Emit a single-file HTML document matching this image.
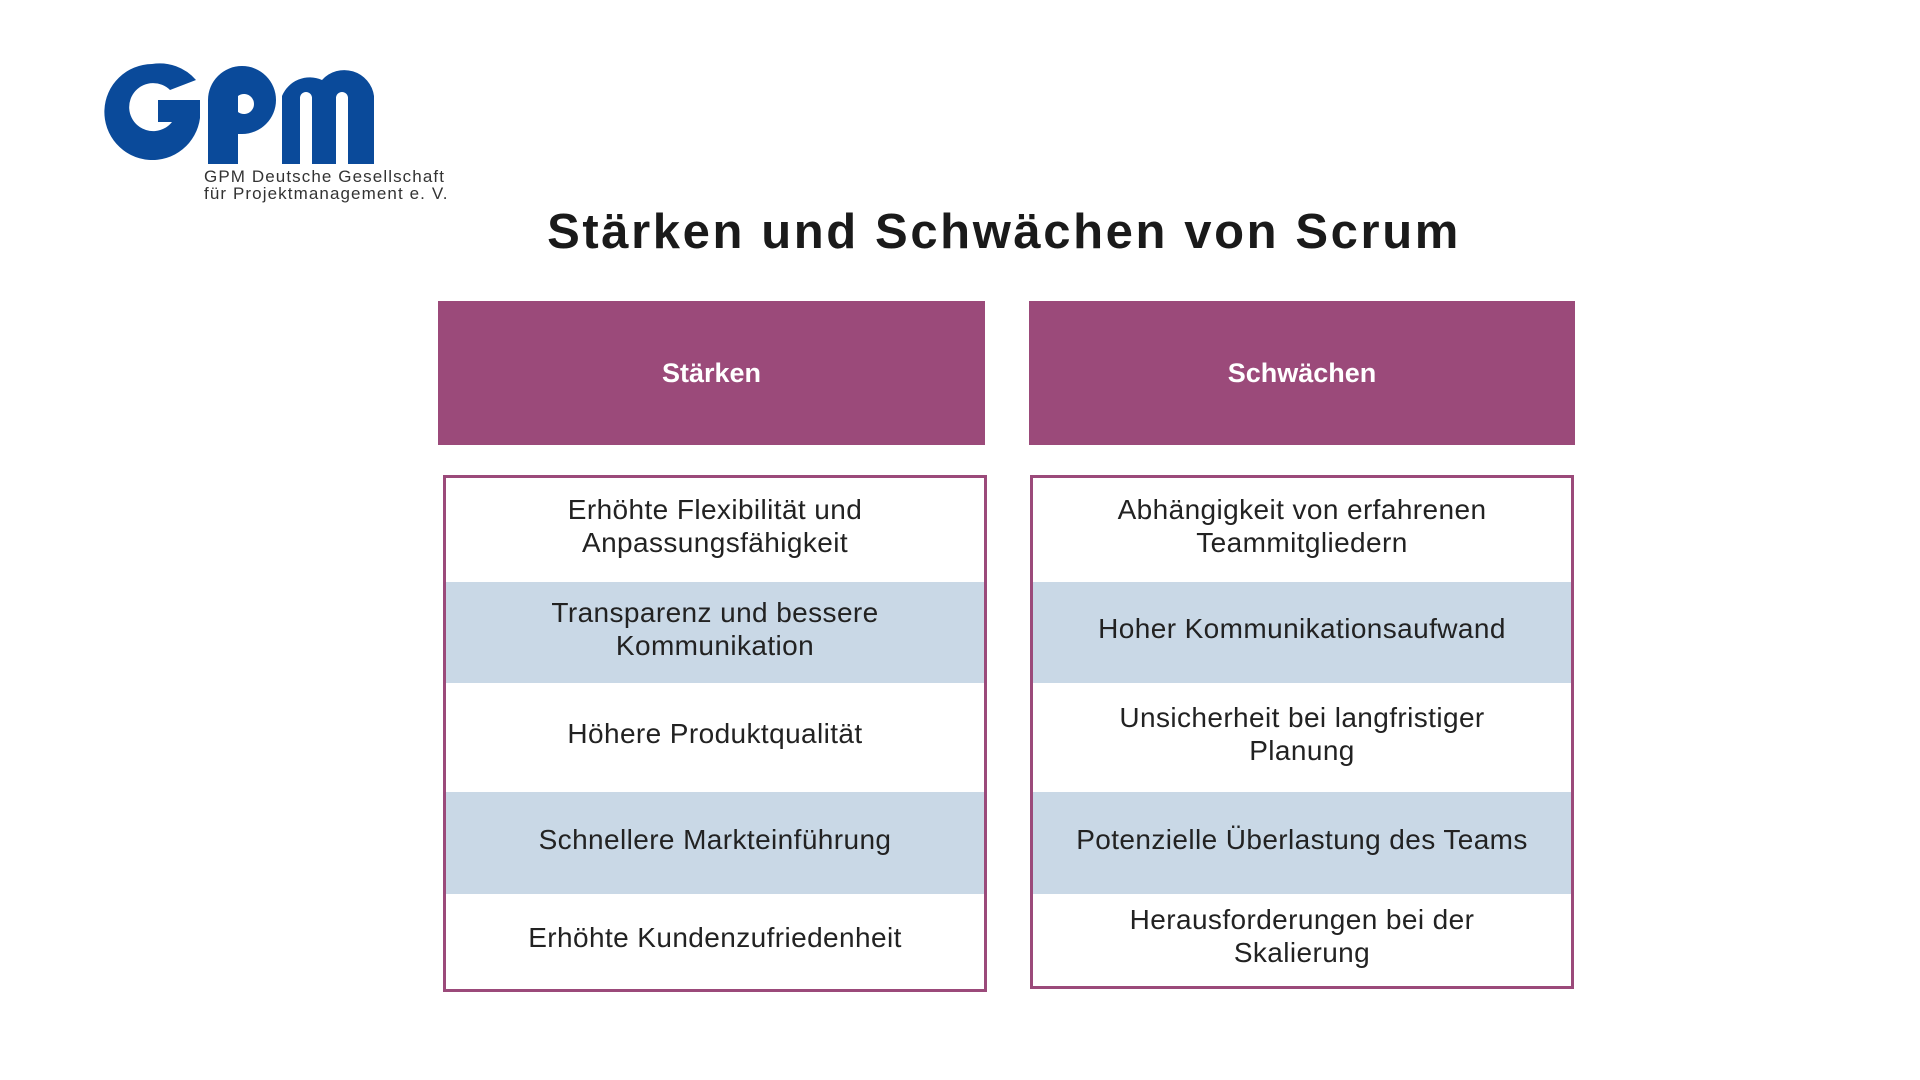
<!DOCTYPE html>
<html><head><meta charset="utf-8"><style>
*{margin:0;padding:0;box-sizing:border-box}
body{width:1920px;height:1080px;background:#fff;position:relative;overflow:hidden;font-family:"Liberation Sans",sans-serif}
.abs{position:absolute}
.hdr{background:#9b4a7a;color:#fff;font-weight:bold;font-size:27px;display:flex;align-items:center;justify-content:center}
.box{border:3px solid #9b4a7a;background:#fff}
.row{position:absolute;left:0;right:0;display:flex;align-items:center;justify-content:center;text-align:center;font-size:28px;line-height:33px;color:#222;padding-bottom:8px;letter-spacing:0.4px}
.b{background:#c9d8e6}
</style></head><body>
<svg class="abs" style="left:100px;top:60px" width="290" height="110" viewBox="0 0 290 110">
<g fill="#0a4a9a">
<path d="M52 4 A48 48 0 1 0 100 58 L100 40 L58 40 L58 62 L72 62 A24 24 0 1 1 70 30 L96 20 A48 48 0 0 0 52 4Z"/>
<path d="M108 104 L108 40 A34 34 0 0 1 176 40 A34 34 0 0 1 142 74 L138 74 L138 104Z M138 52 A10 10 0 1 0 138 36Z" fill-rule="evenodd"/>
<path d="M182 104 L182 36 A30 30 0 0 1 222 20 A30 30 0 0 1 274 36 L274 104 L248 104 L248 38 A6 6 0 0 0 236 38 L236 104 L212 104 L212 38 A6 6 0 0 0 200 38 L200 104Z"/>
</g></svg>
<div class="abs" style="left:204px;top:168px;font-size:17px;line-height:17px;color:#333;letter-spacing:1.1px">GPM Deutsche Gesellschaft<br>für Projektmanagement e. V.</div>
<div class="abs" style="left:0;width:2008px;top:204px;text-align:center;font-size:49px;font-weight:bold;color:#1a1a1a;letter-spacing:2.6px">Stärken und Schwächen von Scrum</div>

<div class="abs hdr" style="left:438px;top:301px;width:547px;height:144px">Stärken</div>
<div class="abs hdr" style="left:1029px;top:301px;width:546px;height:144px">Schwächen</div>

<div class="abs box" style="left:443px;top:475px;width:544px;height:517px">
<div class="row" style="top:0;height:104px">Erhöhte Flexibilität und<br>Anpassungsfähigkeit</div>
<div class="row b" style="top:104px;height:101px">Transparenz und bessere<br>Kommunikation</div>
<div class="row" style="top:205px;height:109px">Höhere Produktqualität</div>
<div class="row b" style="top:314px;height:102px">Schnellere Markteinführung</div>
<div class="row" style="top:416px;height:95px">Erhöhte Kundenzufriedenheit</div>
</div>
<div class="abs box" style="left:1030px;top:475px;width:544px;height:514px">
<div class="row" style="top:0;height:104px">Abhängigkeit von erfahrenen<br>Teammitgliedern</div>
<div class="row b" style="top:104px;height:101px">Hoher Kommunikationsaufwand</div>
<div class="row" style="top:205px;height:109px">Unsicherheit bei langfristiger<br>Planung</div>
<div class="row b" style="top:314px;height:102px">Potenzielle Überlastung des Teams</div>
<div class="row" style="top:416px;height:92px">Herausforderungen bei der<br>Skalierung</div>
</div>
</body></html>
